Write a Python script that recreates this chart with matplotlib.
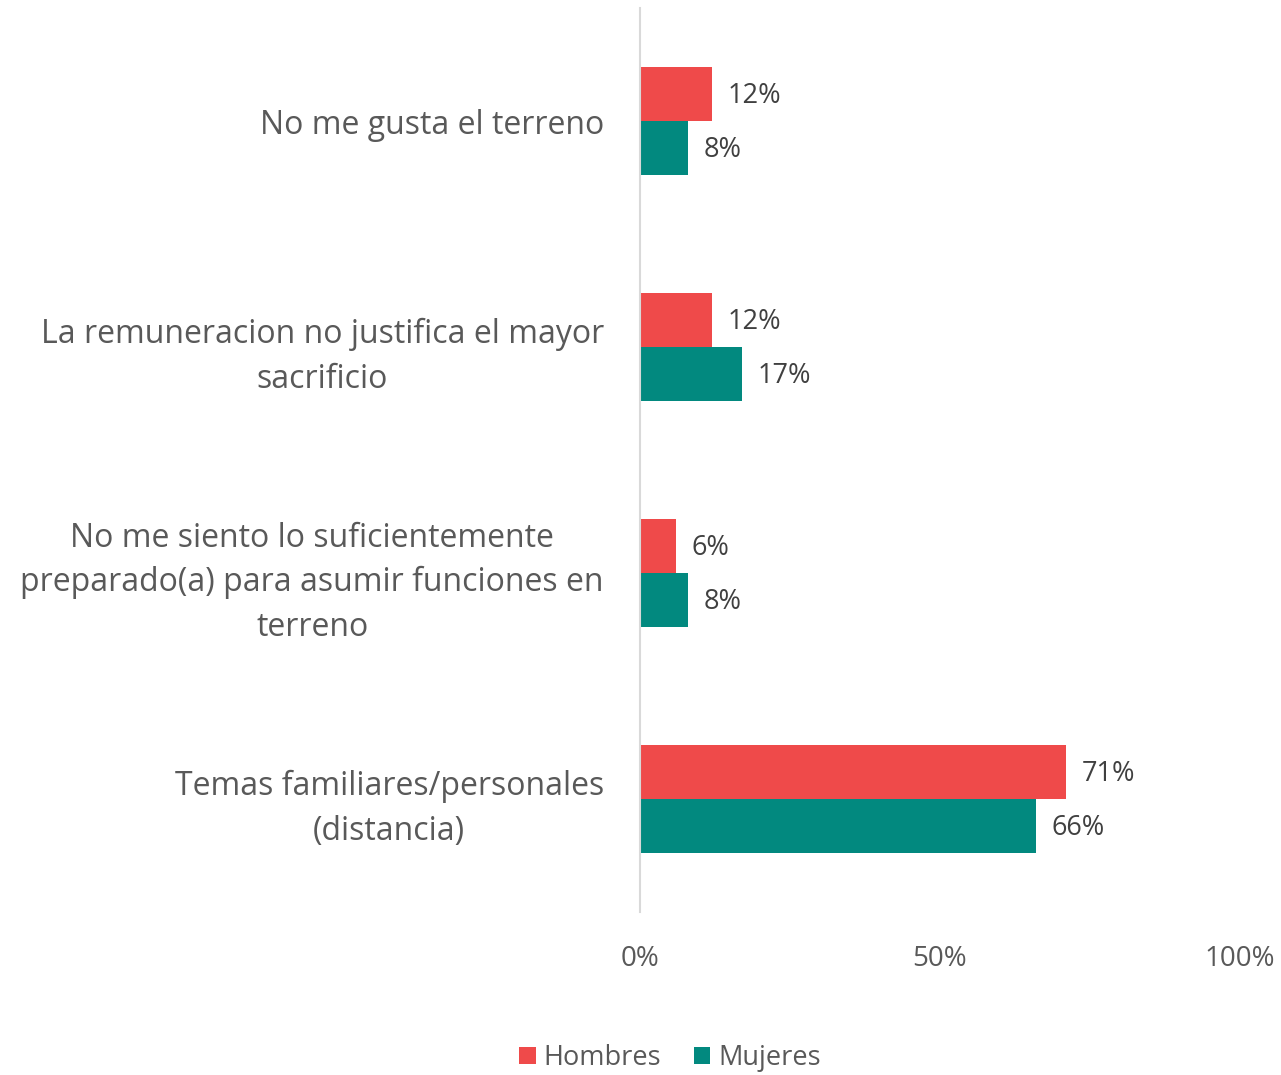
import matplotlib.pyplot as plt
import numpy as np

categories = [
    "No me gusta el terreno",
    "La remuneracion no justifica el mayor\nsacrificio",
    "No me siento lo suficientemente\npreparado(a) para asumir funciones en\nterreno",
    "Temas familiares/personales\n(distancia)",
]
hombres = [12, 12, 6, 71]
mujeres = [8, 17, 8, 66]
xticks = [0, 50, 100]

plt.rcParams['font.family'] = ['Open Sans', 'DejaVu Sans']

fig = plt.figure(figsize=(12.81, 10.75), dpi=100)
ax = fig.add_axes([640 / 1281, 1 - 912 / 1075, 600 / 1281, 904 / 1075])

red = "#EF4A4A"
teal = "#02897F"
y = np.arange(len(categories))
h = 0.24
b1 = ax.barh(y - h / 2, hombres, height=h, color=red, label="Hombres")
b2 = ax.barh(y + h / 2, mujeres, height=h, color=teal, label="Mujeres")

for bars, vals in ((b1, hombres), (b2, mujeres)):
    for bar, v in zip(bars, vals):
        ax.text(bar.get_width() + 2.6, bar.get_y() + bar.get_height() / 2 + 0.01, f"{v}%",
                va="center", ha="left", fontsize=19.5, color="#404040")

ax.set_xlim(0, 100)
ax.set_ylim(len(categories) - 0.5, -0.5)
ax.set_xticks(xticks)
ax.set_xticklabels([f"{t}%" for t in xticks], fontsize=20, color="#595959")
ax.set_yticks(y)
ax.set_yticklabels(categories, fontsize=23, color="#595959", ha="right",
                   multialignment="center", linespacing=1.46)
ax.tick_params(axis="y", length=0, pad=26)
ax.tick_params(axis="x", length=0, pad=24)
for s in ["top", "right", "bottom"]:
    ax.spines[s].set_visible(False)
ax.spines["left"].set_color("#D9D9D9")
ax.spines["left"].set_linewidth(1.5)

fig.legend(handles=[b1, b2], loc="center", bbox_to_anchor=(670 / 1281, 1 - 1058 / 1075),
           ncol=2, frameon=False, fontsize=19.5, handlelength=0.6, handleheight=0.6,
           handletextpad=0.3, columnspacing=1.2, labelcolor="#595959")

fig.savefig("out.png", dpi=100)
